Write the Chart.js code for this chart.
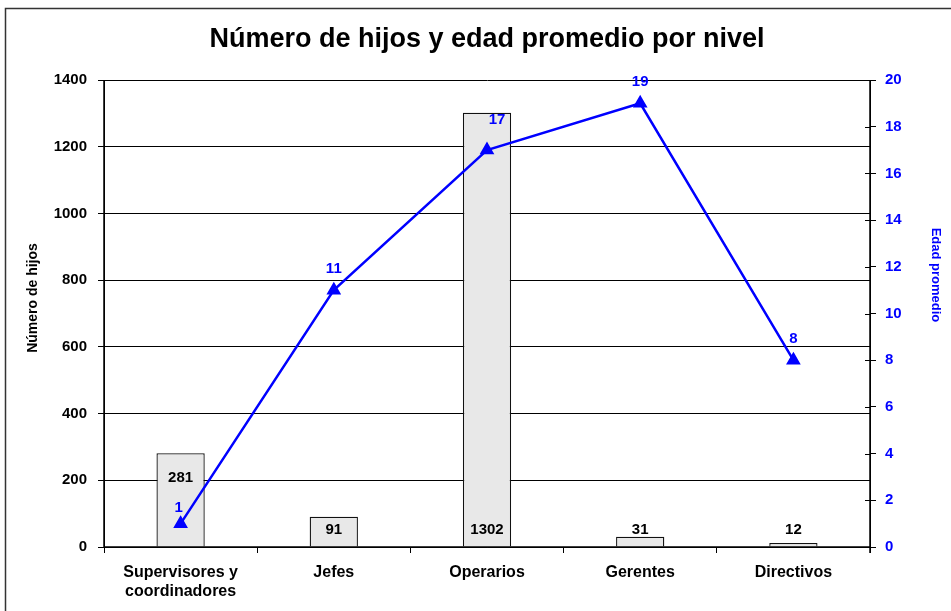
<!DOCTYPE html>
<html>
<head>
<meta charset="utf-8">
<script src="https://cdn.jsdelivr.net/npm/chart.js@4"></script>
<style>
  html, body { margin: 0; padding: 0; background: #fff; }
  #wrap { width: 951px; height: 611px; }
</style>
</head>
<body>
<div id="wrap"><canvas id="combo" width="951" height="611"></canvas></div>
<script>
// data
const niveles = [["Supervisores y", "coordinadores"], "Jefes", "Operarios", "Gerentes", "Directivos"];
const numeroHijos = [281, 91, 1302, 31, 12];
const edadPromedio = [1, 11, 17, 19, 8];

const FONT = "'Liberation Sans', Arial, sans-serif";
const BLUE = "#0000FF";

// where each bar value sits: inside near the top or near the base
const barLabelAnchor = ["top", "base", "base", "base", "base"];
// nudges for the line value labels [dx, dy]
const lineLabelShift = [[-2, -16], [0, -21], [10, -30], [0, -21], [0, -21]];

const labelsPlugin = {
  id: "valueLabels",
  afterDatasetsDraw(chart) {
    const ctx = chart.ctx;
    ctx.save();
    ctx.textAlign = "center";
    ctx.textBaseline = "middle";
    ctx.font = "bold 15px " + FONT;

    ctx.fillStyle = "#000";
    chart.getDatasetMeta(1).data.forEach((bar, i) => {
      const y = barLabelAnchor[i] === "top" ? bar.y + 25 : bar.base - 17;
      ctx.fillText(String(numeroHijos[i]), bar.x, y);
    });

    ctx.fillStyle = BLUE;
    chart.getDatasetMeta(0).data.forEach((pt, i) => {
      const s = lineLabelShift[i];
      ctx.fillText(String(edadPromedio[i]), pt.x + s[0], pt.y + s[1]);
    });
    ctx.restore();
  },
};

const framePlugin = {
  id: "frame",
  beforeDraw(chart) {
    const ctx = chart.ctx;
    ctx.save();
    ctx.fillStyle = "#fff";
    ctx.fillRect(0, 0, chart.width, chart.height);
    ctx.strokeStyle = "#333";
    ctx.lineWidth = 1.5;
    ctx.strokeRect(5.5, 8.5, 1200, 1200);
    ctx.restore();
  },
  afterDraw(chart) {
    const ctx = chart.ctx;
    const a = chart.chartArea;
    ctx.save();
    ctx.fillStyle = "#000";
    ctx.textAlign = "center";
    ctx.textBaseline = "middle";
    ctx.font = "bold 27px " + FONT;
    ctx.fillText("Número de hijos y edad promedio por nivel", (a.left + a.right) / 2, 40);

    // axis titles
    ctx.font = "bold 14px " + FONT;
    ctx.save();
    ctx.translate(33, 298);
    ctx.rotate(-Math.PI / 2);
    ctx.fillText("Número de hijos", 0, 0);
    ctx.restore();
    ctx.fillStyle = BLUE;
    ctx.font = "bold 13px " + FONT;
    ctx.save();
    ctx.translate(936, 275);
    ctx.rotate(Math.PI / 2);
    ctx.fillText("Edad promedio", 0, 0);
    ctx.restore();

    // axis lines and inner half of the right axis tick marks
    const y2 = chart.scales.y2;
    ctx.strokeStyle = "#000";
    ctx.lineWidth = 1.5;
    const L = Math.round(a.left), R = Math.round(a.right);
    ctx.beginPath();
    ctx.moveTo(L, a.top); ctx.lineTo(L, a.bottom);
    ctx.moveTo(R, a.top); ctx.lineTo(R, a.bottom + 6);
    ctx.moveTo(L, a.bottom); ctx.lineTo(R, a.bottom);
    ctx.stroke();
    ctx.lineWidth = 1;
    ctx.beginPath();
    y2.ticks.forEach((t) => {
      const py = Math.round(y2.getPixelForValue(t.value)) + 0.5;
      ctx.moveTo(R - 5, py);
      ctx.lineTo(R, py);
    });
    ctx.stroke();
    ctx.restore();
  },
};

const ctx = document.getElementById("combo").getContext("2d");
const comboChart = new Chart(ctx, {
  type: "bar",
  data: {
    labels: niveles,
    datasets: [
      {
        type: "line",
        label: "Edad promedio",
        data: edadPromedio,
        yAxisID: "y2",
        borderColor: BLUE,
        backgroundColor: BLUE,
        borderWidth: 2.5,
        pointStyle: "triangle",
        pointRadius: 6,
        pointHoverRadius: 6,
        tension: 0,
        order: 0,
      },
      {
        type: "bar",
        label: "Número de hijos",
        data: numeroHijos,
        yAxisID: "y",
        backgroundColor: "#E8E8E8",
        borderColor: "#111",
        borderWidth: 1.3,
        barPercentage: 0.315,
        categoryPercentage: 1,
        order: 1,
      },
    ],
  },
  options: {
    responsive: false,
    animation: false,
    layout: { padding: { top: 80, left: 0, right: 0, bottom: 0 } },
    plugins: {
      legend: { display: false },
      title: { display: false },
      tooltip: { enabled: false },
    },
    scales: {
      x: {
        offset: true,
        grid: { offset: true, drawOnChartArea: false, color: "#000", tickLength: 6 },
        border: { color: "#000", width: 1 },
        ticks: { color: "#000", font: { family: FONT, size: 16, weight: "bold" }, padding: 10, maxRotation: 0, autoSkip: false },
        afterFit: (s) => { s.height = 64; },
      },
      y: {
        position: "left",
        min: 0,
        max: 1400,
        ticks: { stepSize: 200, color: "#000", font: { family: FONT, size: 15, weight: "bold" }, padding: 11, callback: (v) => String(v) },
        grid: { color: "#000", lineWidth: 1, tickLength: 6 },
        border: { color: "#000", width: 1 },
        afterFit: (s) => { s.width = 104; },
      },
      y2: {
        position: "right",
        min: 0,
        max: 20,
        ticks: { stepSize: 2, color: BLUE, font: { family: FONT, size: 15, weight: "bold" }, padding: 9 },
        grid: { drawOnChartArea: false, color: "#000", tickLength: 6 },
        border: { color: "#000", width: 1 },
        afterFit: (s) => { s.width = 81; },
      },
    },
  },
  plugins: [framePlugin, labelsPlugin],
});
</script>
</body>
</html>
